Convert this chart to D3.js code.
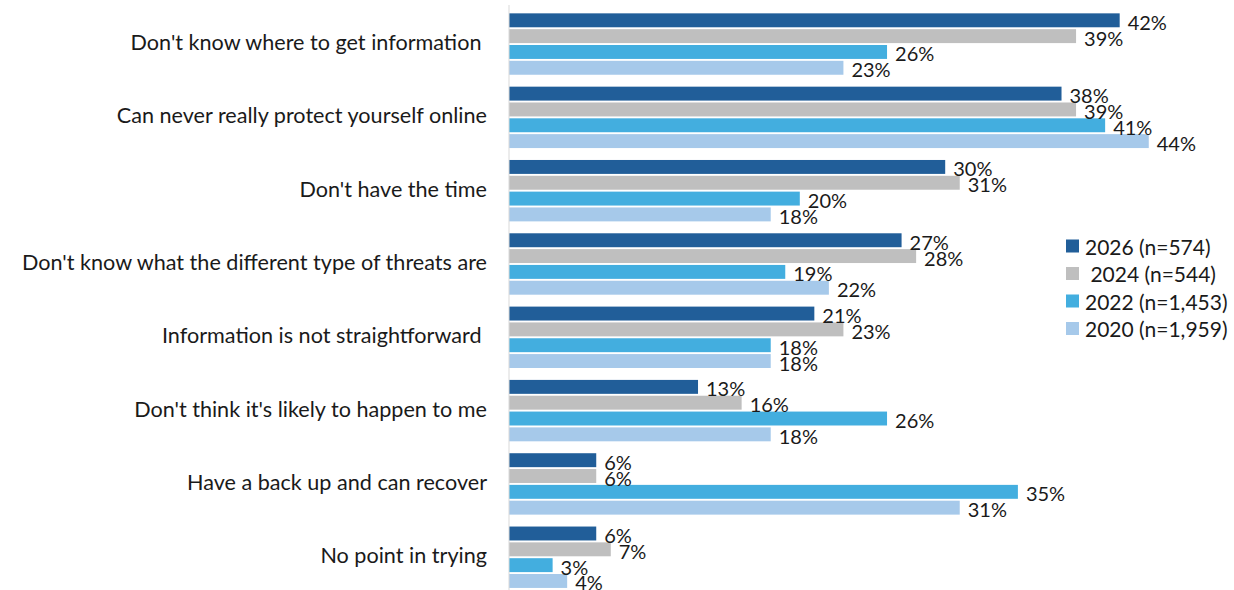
<!DOCTYPE html>
<html>
<head>
<meta charset="utf-8">
<script src="https://cdn.jsdelivr.net/npm/d3@7"></script>
<style>
  html, body { margin: 0; padding: 0; background: #fff; }
  svg text { font-family: Lato, "Open Sans", "Noto Sans", sans-serif; fill: #1a1a1a; white-space: pre; }
</style>
</head>
<body>
<svg id="chart" width="1234" height="590"></svg>
<script>
// Reasons given, in display order (top to bottom)
const categories = [
  "Don't know where to get information ",
  "Can never really protect yourself online",
  "Don't have the time",
  "Don't know what the different type of threats are",
  "Information is not straightforward ",
  "Don't think it's likely to happen to me",
  "Have a back up and can recover",
  "No point in trying"
];

// Survey waves
const seriesKeys = ["2026", "2024", "2022", "2020"];
const legendLabels = ["2026 (n=574)", " 2024 (n=544)", "2022 (n=1,453)", "2020 (n=1,959)"];
const seriesColors = ["#215E99", "#BFBFBF", "#43AEDF", "#A6C9EA"];

// Percentages per wave, one entry per category
const values2026 = [42, 38, 30, 27, 21, 13, 6, 6];
const values2024 = [39, 39, 31, 28, 23, 16, 6, 7];
const values2022 = [26, 41, 20, 19, 18, 26, 35, 3];
const values2020 = [23, 44, 18, 22, 18, 18, 31, 4];

const seriesValues = [values2026, values2024, values2022, values2020];

const svg = d3.select("#chart");

const x = d3.scaleLinear().domain([0, 44]).range([509, 509 + 44 * 14.54]);

const y0 = d3.scaleBand().domain(categories).range([7.4, 593.9]).padding(0);
const y1 = d3.scaleBand().domain(seriesKeys).range([5, 68.3])
  .paddingInner(0.12).paddingOuter(0.06);
const color = d3.scaleOrdinal().domain(seriesKeys).range(seriesColors);

// Flatten into one record per bar
const rows = [];
categories.forEach((c, i) => {
  seriesKeys.forEach((k, j) => {
    rows.push({ cat: c, key: k, value: seriesValues[j][i] });
  });
});

// Bars
svg.append("g").selectAll("rect")
  .data(rows)
  .join("rect")
  .attr("x", x(0))
  .attr("y", d => y0(d.cat) + y1(d.key))
  .attr("width", d => x(d.value) - x(0))
  .attr("height", y1.bandwidth())
  .attr("fill", d => color(d.key));

// Value labels
svg.append("g").selectAll("text")
  .data(rows)
  .join("text")
  .attr("x", d => x(d.value) + 8)
  .attr("y", d => y0(d.cat) + y1(d.key) + y1.bandwidth() / 2 + 1.5)
  .attr("dominant-baseline", "central")
  .attr("font-size", 20)
  .text(d => d.value + "%");

// Vertical axis line
svg.append("line")
  .attr("x1", x(0)).attr("x2", x(0))
  .attr("y1", 5).attr("y2", 590)
  .attr("stroke", "#D9D9D9")
  .attr("stroke-width", 1);

// Category labels
const yAxis = d3.axisLeft(y0).tickSize(0).tickPadding(0);
const axisG = svg.append("g")
  .attr("transform", `translate(487,0)`)
  .call(yAxis);
axisG.select(".domain").remove();
axisG.attr("font-family", null).attr("font-size", null);
axisG.selectAll("text")
  .attr("font-size", 21.6)
  .attr("fill", "#1a1a1a")
  .attr("dy", "0.28em");

// Legend
const legend = svg.append("g").attr("transform", "translate(1066,246)");
const item = legend.selectAll("g")
  .data(seriesKeys)
  .join("g")
  .attr("transform", (d, i) => `translate(0,${i * 27.5})`);
item.append("rect")
  .attr("x", 0).attr("y", -6.5)
  .attr("width", 13).attr("height", 13)
  .attr("fill", d => color(d));
item.append("text")
  .attr("x", 19)
  .attr("y", 0)
  .attr("dominant-baseline", "central")
  .attr("font-size", 21)
  .text((d, i) => legendLabels[i]);
</script>
</body>
</html>
